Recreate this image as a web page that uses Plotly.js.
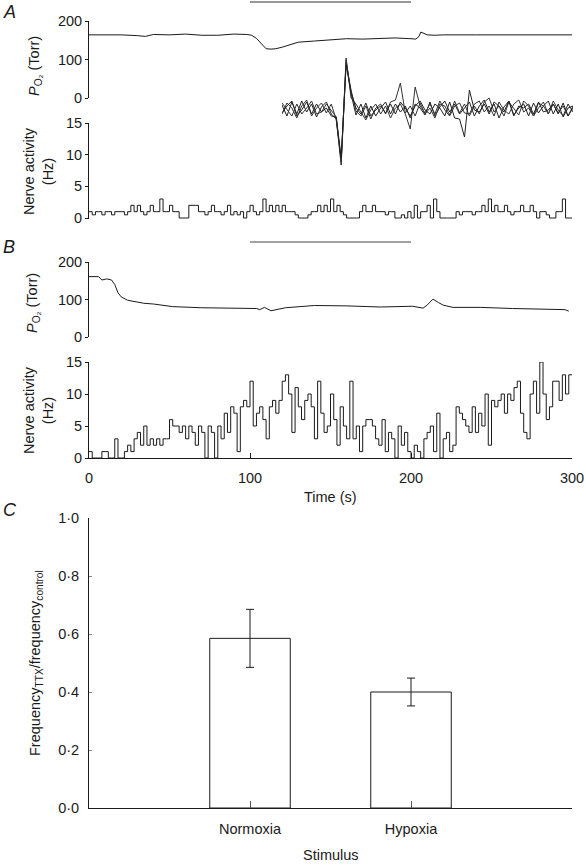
<!DOCTYPE html>
<html>
<head>
<meta charset="utf-8">
<script src="https://cdn.plot.ly/plotly-3.0.1.min.js"></script>
<style>html,body{margin:0;padding:0;background:#fff;}#chart{width:586px;height:865px;}</style>
</head>
<body>
<div id="chart"></div>
<script>
// ---------- DATA ----------
const stimulusWindow = [100, 200]; // s

// Panel A: PO2 (Torr) during normoxic trial
const aPo2Time = [0,10,20,30,35,40,50,60,70,80,90,98,101,104,107,110,113,116,120,125,130,140,150,160,170,180,190,200,203,205,206,208,210,215,220,240,260,280,300];
const aPo2 = [164,164,164,162,160,165,164,166,163,163,166,165,163,155,140,128,127,128,132,138,145,148,151,154,153,155,156,154,153,160,171,168,164,163,164,164,164,163,164];

// Panel A: nerve activity (Hz), 2-s bins
const binWidth = 2;
const aNerve = [
 1,0.5,1,1,0.5,1,1,0.5,1,1,
 1,0.5,1,2,1,2,1,0.5,1,2,
 1,1,3,1,1,2,1,1,0,0,
 0,2,2,2,1,1,0.5,1,2,1,
 1,0.5,1,2,0.5,1,0.5,1,0,1,
 2,1,0.5,1,3,1,2,1,2,1,
 2,1,1,1,0.5,0,0,0,0.5,1,
 1,2,1,2,1,3,1,2,1,0.5,
 0,0,0,0,1,2,1,1,2,1,
 1,1,0.5,1,1,0,0,0.5,0,1,
 0,2,0,1,1,2,0,3,1,0,
 0,0,0,0,1,0.5,1,1,1,0.5,
 1,1,2,1,3,1,2,1,1,2,
 1,0.5,1,1,2,1,1,2,1,0,
 1,1,0.5,0,0,1,1,3,0,0
];

// Panel A inset: superimposed action potential waveforms (arbitrary units)
const insetSample = Array.from({length: 60}, (_, i) => i);
const wave1 = [5,-6,8,-4,9,-2,6,-7,3,8, -4,-9,-55,50,16,-5,6,-8,4,-6, 2,8,-4,6,-2,4,-8,6,2,-5, 8,-6,3,9,-2,6,-4,2,8,-6, 4,10,-2,6,-8,3,9,-5,2,6, -6,7,-3,4,9,-4,6,-7,2,4];
const wave2 = [-4,7,2,-8,4,10,-6,2,7,-3, 6,-10,-50,47,20,-1,-6,4,-9,2, 6,-4,8,10,27,-3,4,-6,7,-4, 2,-8,6,4,-5,9,-3,6,-6,4, -4,8,12,-2,4,-6,8,2,-5,9, 4,-6,2,8,-4,6,-3,4,-6,2];
const wave3 = [7,0,-6,6,-4,2,9,-4,-2,6, 0,-7,-52,52,12,6,-2,-10,0,6, -4,4,-8,2,6,-4,-19,23,4,-3, 6,-4,9,0,-6,4,7,-3,-4,6, 9,-2,4,-6,8,0,-4,6,10,-2, 2,-6,7,4,-4,9,0,-6,6,-2];
const wave4 = [-3,4,9,-6,0,8,-4,6,-2,2, -6,-7,-48,45,18,2,-4,7,-6,0, 4,-3,6,-4,8,2,-6,4,9,0, -4,6,2,-6,8,-8,-9,-27,20,0, -2,6,-4,8,4,-2,9,-6,4,2, 6,-4,8,-2,0,6,-4,7,-6,4];

// Panel B: PO2 (Torr) during hypoxic trial
const bPo2Time = [0,6,8,11,14,16,18,20,24,28,34,40,52,70,90,104,106,109,113,117,122,131,140,160,181,201,205,207.5,210,213.7,217,220,226,243,263,284,295.6,298];
const bPo2 = [161,161,152,155,152,140,118,107,98,94,90,88,81,78,76,76,73,79,70,74,78,81,84,83,80,82,80,77,85,101,92,85,79,79,76,74,73,69];

// Panel B: nerve activity (Hz), 2-s bins
const bNerve = [
 1,0,0,0,1, 1,0,0,3,0,
 0,1,2,1,3, 4,2,5,2,3,
 2,3,2,3,3, 6,5,5,4,5,
 3,5,4,2,5, 4,0,5,4,0,
 5,3,7,4,8, 7,1,8,9,8,
 12,5,7,8,6, 3,8,9,7,9,
 12,13,10,4,11, 8,6,9,10,8,
 3,12,7,4,5, 10,6,2,8,5,
 3,12,3,5,1, 5,6,6,5,3,
 2,6,1,4,3, 0,5,2,4,1,
 0,2,1,0,3, 4,5,1,7,0,
 3,4,1,2,8, 7,6,5,4,8,
 4,7,5,10,2, 9,8,9,10,7,
 10,9,11,12,7, 4,3,10,12,7,
 15,10,6,8,12, 12,9,13,10,13
];

// Panel C: TTX effect
const categories = ['Normoxia', 'Hypoxia'];
const ratio = [0.585, 0.40];
const ratioErr = [0.10, 0.048];
const cTickVals = [0, 0.2, 0.4, 0.6, 0.8, 1.0];
const cTickText = ['0·0', '0·2', '0·4', '0·6', '0·8', '1·0'];
const timeTicks = [0, 100, 200, 300];

// ---------- LAYOUT HELPERS ----------
const W = 586, H = 865;
const px = x => x / W;
const py = y => 1 - y / H;
function yDomain(pxLo, pxHi, lo, hi, rmin) {
  const scale = (pxLo - pxHi) / (hi - lo);
  const bottom = pxLo + (lo - rmin) * scale;
  return [py(bottom), py(pxHi)];
}
function binEdges(vals) {
  const x = vals.map((_, i) => i * binWidth);
  x.push(vals.length * binWidth);
  return x;
}
function stepVals(vals) { return [...vals, vals[vals.length - 1]]; }

const FONT = 'Liberation Sans, Arial, Helvetica, sans-serif';
const INK = '#1a1a1a';
const FS = 14.5;
const xDom = [px(89), px(572)];

const yAxisBase = {
  showline: true, linecolor: INK, linewidth: 1,
  ticks: 'outside', ticklen: 3, tickcolor: INK, tickwidth: 1,
  showgrid: false, zeroline: false, fixedrange: true,
  tickfont: {family: FONT, size: FS, color: INK}
};
const hiddenX = {domain: xDom, range: [0, 300], visible: false, fixedrange: true};

const lineStyle = {color: INK, width: 1};

const traces = [
  {x: aPo2Time, y: aPo2, xaxis: 'x', yaxis: 'y', mode: 'lines', line: lineStyle},
  {x: binEdges(aNerve), y: stepVals(aNerve), xaxis: 'x2', yaxis: 'y2', mode: 'lines', line: {color: INK, width: 1, shape: 'hv'}},
  {x: bPo2Time, y: bPo2, xaxis: 'x3', yaxis: 'y3', mode: 'lines', line: lineStyle},
  {x: binEdges(bNerve), y: stepVals(bNerve), xaxis: 'x4', yaxis: 'y4', mode: 'lines', line: {color: INK, width: 1, shape: 'hv'}},
  {x: insetSample, y: wave1, xaxis: 'x5', yaxis: 'y5', mode: 'lines', line: {color: '#222', width: 1}},
  {x: insetSample, y: wave2, xaxis: 'x5', yaxis: 'y5', mode: 'lines', line: {color: '#333', width: 1}},
  {x: insetSample, y: wave3, xaxis: 'x5', yaxis: 'y5', mode: 'lines', line: {color: '#333', width: 1}},
  {x: insetSample, y: wave4, xaxis: 'x5', yaxis: 'y5', mode: 'lines', line: {color: '#222', width: 1}},
  {type: 'bar', x: [1, 2], y: ratio, width: 0.5, xaxis: 'x6', yaxis: 'y6',
   marker: {color: '#fff', line: {color: INK, width: 1}},
   error_y: {type: 'data', array: ratioErr, visible: true, color: INK, thickness: 1, width: 4}}
];

const annFont = {family: FONT, size: FS, color: INK};
function ann(text, x, y, extra) {
  return Object.assign({text, x: px(x), y: py(y), xref: 'paper', yref: 'paper', showarrow: false,
    xanchor: 'center', yanchor: 'middle', font: annFont}, extra || {});
}
const panelFont = {family: FONT, size: 18, color: INK};

const layout = {
  width: W, height: H,
  margin: {l: 0, r: 0, t: 0, b: 0, pad: 0},
  paper_bgcolor: '#fff', plot_bgcolor: 'rgba(0,0,0,0)',
  showlegend: false,
  xaxis: Object.assign({anchor: 'y'}, hiddenX),
  yaxis: Object.assign({}, yAxisBase, {anchor: 'x', domain: yDomain(98, 21, 0, 200, 0), range: [0, 200], tickvals: [0, 100, 200]}),
  xaxis2: Object.assign({anchor: 'y2'}, hiddenX),
  yaxis2: Object.assign({}, yAxisBase, {anchor: 'x2', domain: yDomain(218, 123, 0, 15, -0.2), range: [-0.2, 15], tickvals: [0, 5, 10, 15]}),
  xaxis3: Object.assign({anchor: 'y3'}, hiddenX),
  yaxis3: Object.assign({}, yAxisBase, {anchor: 'x3', domain: yDomain(337, 262, 0, 200, 0), range: [0, 200], tickvals: [0, 100, 200]}),
  xaxis4: {anchor: 'y4', domain: xDom, range: [0, 300], showline: true, linecolor: INK, linewidth: 1,
    ticks: 'inside', ticklen: 5, tickcolor: INK, tickvals: timeTicks, showgrid: false, zeroline: false,
    ticklabelstandoff: 7,
    tickfont: {family: FONT, size: FS, color: INK}, fixedrange: true},
  yaxis4: Object.assign({}, yAxisBase, {anchor: 'x4', domain: yDomain(458, 362, 0, 15, 0), range: [0, 15], tickvals: [0, 5, 10, 15]}),
  xaxis5: {anchor: 'y5', domain: [px(282), px(573)], range: [0, 59], visible: false, fixedrange: true},
  yaxis5: {anchor: 'x5', domain: [py(170), py(50)], range: [-60, 60], visible: false, fixedrange: true},
  xaxis6: {anchor: 'y6', domain: xDom, range: [0, 3], showline: true, linecolor: INK, linewidth: 1,
    ticks: 'inside', ticklen: 7, tickcolor: '#555', tickvals: [1, 2], ticktext: categories,
    ticklabelstandoff: 8,
    showgrid: false, zeroline: false, tickfont: {family: FONT, size: FS, color: INK}, fixedrange: true},
  yaxis6: Object.assign({}, yAxisBase, {anchor: 'x6', domain: yDomain(808, 518, 0, 1, 0), range: [0, 1],
    tickvals: cTickVals, ticktext: cTickText, ticks: 'inside', ticklen: 3, tickcolor: '#888', ticklabelstandoff: 6}),
  shapes: [
    {type: 'line', xref: 'x', yref: 'paper', x0: stimulusWindow[0], x1: stimulusWindow[1], y0: py(2), y1: py(2), line: {color: '#333', width: 1}},
    {type: 'line', xref: 'x3', yref: 'paper', x0: stimulusWindow[0], x1: stimulusWindow[1], y0: py(242), y1: py(242), line: {color: '#444', width: 1}}
  ],
  annotations: [
    ann('<i>A</i>', 9, 12, {font: panelFont}),
    ann('<i>B</i>', 9, 247, {font: panelFont}),
    ann('<i>C</i>', 10, 510, {font: panelFont}),
    ann('<i>P</i><sub>O₂</sub> (Torr)', 35, 66, {textangle: -90}),
    ann('Nerve activity<br>(Hz)', 38, 171, {textangle: -90}),
    ann('<i>P</i><sub>O₂</sub> (Torr)', 33, 303, {textangle: -90}),
    ann('Nerve activity<br>(Hz)', 38, 410, {textangle: -90}),
    ann('Time (s)', 330, 497),
    ann('Frequency<sub>TTX</sub>/frequency<sub>control</sub>', 36, 663, {textangle: -90}),
    ann('Stimulus', 331, 855)
  ]
};

Plotly.newPlot('chart', traces, layout, {staticPlot: true, displayModeBar: false});
</script>
</body>
</html>
